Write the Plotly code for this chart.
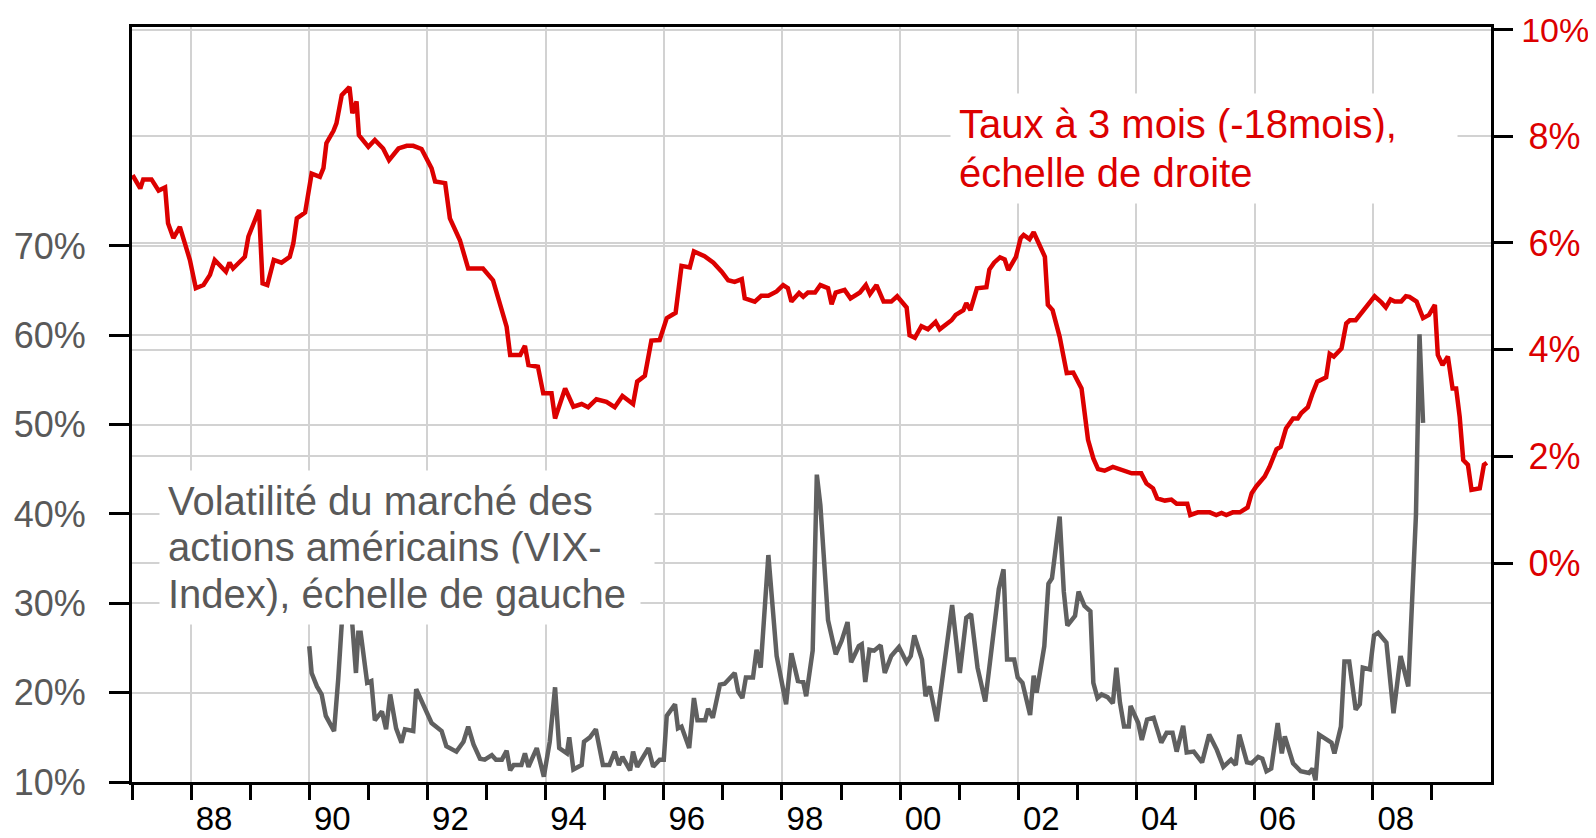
import plotly.graph_objects as go

# Taux à 3 mois décalé de 18 mois (échelle de droite, en %)
taux_annee = [
    1987.01, 1987.14, 1987.19, 1987.33, 1987.45, 1987.56, 1987.61, 1987.70, 1987.81, 1987.90,
    1987.98, 1988.08, 1988.21, 1988.32, 1988.40, 1988.59, 1988.65, 1988.71, 1988.91, 1988.97,
    1989.15, 1989.21, 1989.29, 1989.40, 1989.53, 1989.67, 1989.73, 1989.79, 1989.93, 1990.04,
    1990.18, 1990.24, 1990.29, 1990.41, 1990.46, 1990.55, 1990.68, 1990.73, 1990.80, 1990.84,
    1991.00, 1991.11, 1991.25, 1991.35, 1991.51, 1991.65, 1991.76, 1991.90, 1992.07, 1992.13,
    1992.30, 1992.38, 1992.55, 1992.69, 1992.94, 1993.11, 1993.34, 1993.40, 1993.57, 1993.65,
    1993.71, 1993.87, 1993.96, 1994.10, 1994.16, 1994.33, 1994.47, 1994.61, 1994.72, 1994.86,
    1995.03, 1995.17, 1995.30, 1995.48, 1995.55, 1995.68, 1995.79, 1995.93, 1996.05, 1996.20,
    1996.30, 1996.44, 1996.51, 1996.69, 1996.84, 1996.98, 1997.09, 1997.20, 1997.32, 1997.37,
    1997.54, 1997.65, 1997.77, 1997.91, 1998.02, 1998.10, 1998.16, 1998.29, 1998.36, 1998.44,
    1998.56, 1998.65, 1998.78, 1998.84, 1998.91, 1999.06, 1999.16, 1999.32, 1999.42, 1999.49,
    1999.60, 1999.72, 1999.85, 1999.95, 2000.11, 2000.16, 2000.25, 2000.36, 2000.47, 2000.60,
    2000.67, 2000.87, 2000.94, 2001.07, 2001.12, 2001.19, 2001.30, 2001.46, 2001.51, 2001.59,
    2001.69, 2001.77, 2001.83, 2001.96, 2002.04, 2002.09, 2002.19, 2002.26, 2002.45, 2002.50,
    2002.58, 2002.70, 2002.82, 2002.93, 2003.07, 2003.18, 2003.27, 2003.35, 2003.46, 2003.60,
    2003.77, 2003.92, 2004.08, 2004.17, 2004.28, 2004.35, 2004.48, 2004.59, 2004.68, 2004.86,
    2004.91, 2005.04, 2005.24, 2005.35, 2005.44, 2005.52, 2005.63, 2005.75, 2005.88, 2005.95,
    2006.03, 2006.17, 2006.25, 2006.37, 2006.44, 2006.53, 2006.65, 2006.73, 2006.79, 2006.90,
    2006.98, 2007.06, 2007.21, 2007.27, 2007.34, 2007.47, 2007.55, 2007.61, 2007.71, 2007.81,
    2007.92, 2008.03, 2008.15, 2008.22, 2008.30, 2008.37, 2008.48, 2008.56, 2008.62, 2008.74,
    2008.85, 2008.95, 2009.05, 2009.10, 2009.18, 2009.27, 2009.35, 2009.41, 2009.47, 2009.53,
    2009.61, 2009.67, 2009.81, 2009.88, 2009.93,
]
taux_valeur = [
    7.27, 7.02, 7.19, 7.19, 6.98, 7.04, 6.37, 6.09, 6.30, 5.93,
    5.68, 5.15, 5.21, 5.40, 5.68, 5.46, 5.63, 5.52, 5.74, 6.12,
    6.62, 5.24, 5.21, 5.68, 5.63, 5.74, 5.99, 6.46, 6.57, 7.30,
    7.24, 7.40, 7.87, 8.10, 8.24, 8.77, 8.92, 8.43, 8.65, 8.02,
    7.80, 7.93, 7.77, 7.55, 7.77, 7.82, 7.82, 7.76, 7.40, 7.15,
    7.12, 6.46, 6.05, 5.52, 5.52, 5.30, 4.43, 3.90, 3.90, 4.07,
    3.71, 3.68, 3.18, 3.18, 2.71, 3.27, 2.93, 2.98, 2.92, 3.07,
    3.02, 2.92, 3.13, 2.98, 3.40, 3.51, 4.17, 4.18, 4.59, 4.69,
    5.57, 5.54, 5.84, 5.75, 5.63, 5.46, 5.30, 5.27, 5.32, 4.96,
    4.90, 5.01, 5.01, 5.09, 5.21, 5.15, 4.90, 5.06, 4.99, 5.07,
    5.07, 5.21, 5.15, 4.85, 5.07, 5.12, 4.96, 5.07, 5.21, 5.04,
    5.21, 4.90, 4.90, 5.00, 4.79, 4.27, 4.22, 4.44, 4.38, 4.52,
    4.38, 4.55, 4.65, 4.74, 4.87, 4.74, 5.15, 5.17, 5.50, 5.63,
    5.73, 5.69, 5.49, 5.74, 6.09, 6.15, 6.07, 6.20, 5.74, 4.84,
    4.74, 4.24, 3.56, 3.57, 3.27, 2.31, 1.96, 1.76, 1.73, 1.80,
    1.74, 1.68, 1.68, 1.49, 1.40, 1.21, 1.17, 1.19, 1.11, 1.11,
    0.90, 0.95, 0.95, 0.90, 0.94, 0.90, 0.95, 0.95, 1.04, 1.31,
    1.44, 1.62, 1.80, 2.13, 2.18, 2.52, 2.71, 2.71, 2.81, 2.92,
    3.18, 3.40, 3.48, 3.92, 3.87, 4.02, 4.49, 4.55, 4.55, 4.69,
    4.84, 5.00, 4.88, 4.79, 4.94, 4.90, 4.90, 5.00, 4.99, 4.90,
    4.59, 4.65, 4.84, 3.90, 3.71, 3.87, 3.27, 3.27, 2.74, 1.93,
    1.84, 1.37, 1.40, 1.84, 1.88,
]

# Volatilité VIX (échelle de gauche, en %)
vix_annee = [
    1990.00, 1990.04, 1990.13, 1990.21, 1990.28, 1990.42, 1990.49, 1990.55, 1990.63, 1990.72,
    1990.79, 1990.83, 1990.87, 1990.98, 1991.05, 1991.11, 1991.23, 1991.30, 1991.37, 1991.47,
    1991.56, 1991.62, 1991.76, 1991.81, 1991.93, 1992.07, 1992.24, 1992.32, 1992.49, 1992.61,
    1992.69, 1992.78, 1992.89, 1992.97, 1993.09, 1993.16, 1993.26, 1993.34, 1993.40, 1993.46,
    1993.59, 1993.65, 1993.71, 1993.85, 1993.97, 1994.07, 1994.16, 1994.23, 1994.36, 1994.40,
    1994.47, 1994.61, 1994.65, 1994.75, 1994.85, 1994.97, 1995.08, 1995.17, 1995.24, 1995.30,
    1995.43, 1995.48, 1995.55, 1995.74, 1995.82, 1995.93, 1996.00, 1996.05, 1996.19, 1996.24,
    1996.30, 1996.43, 1996.51, 1996.57, 1996.70, 1996.75, 1996.83, 1996.95, 1997.03, 1997.20,
    1997.26, 1997.33, 1997.39, 1997.51, 1997.57, 1997.64, 1997.77, 1997.88, 1997.91, 1998.07,
    1998.16, 1998.27, 1998.36, 1998.41, 1998.52, 1998.59, 1998.65, 1998.78, 1998.91, 1999.01,
    1999.11, 1999.17, 1999.30, 1999.35, 1999.41, 1999.48, 1999.56, 1999.67, 1999.74, 1999.85,
    1999.98, 2000.11, 2000.18, 2000.24, 2000.37, 2000.43, 2000.50, 2000.62, 2000.70, 2000.88,
    2001.01, 2001.12, 2001.20, 2001.31, 2001.44, 2001.54, 2001.67, 2001.75, 2001.81, 2001.93,
    2001.99, 2002.07, 2002.20, 2002.26, 2002.31, 2002.44, 2002.51, 2002.57, 2002.70, 2002.77,
    2002.83, 2002.96, 2003.02, 2003.12, 2003.22, 2003.27, 2003.34, 2003.41, 2003.51, 2003.60,
    2003.66, 2003.72, 2003.79, 2003.87, 2003.90, 2004.03, 2004.09, 2004.18, 2004.29, 2004.42,
    2004.51, 2004.61, 2004.68, 2004.79, 2004.85, 2004.97, 2005.11, 2005.23, 2005.36, 2005.47,
    2005.60, 2005.68, 2005.74, 2005.87, 2005.95, 2006.06, 2006.13, 2006.20, 2006.28, 2006.39,
    2006.46, 2006.51, 2006.65, 2006.78, 2006.92, 2006.98, 2007.03, 2007.09, 2007.30, 2007.35,
    2007.46, 2007.52, 2007.60, 2007.71, 2007.78, 2007.83, 2007.95, 2008.02, 2008.09, 2008.23,
    2008.35, 2008.47, 2008.60, 2008.73, 2008.79, 2008.85,
]
vix_valeur = [
    25.2, 22.2, 20.7, 19.8, 17.4, 15.7, 21.5, 28.4, 36.0, 28.4,
    22.2, 26.7, 26.7, 21.1, 21.3, 16.9, 17.9, 15.9, 19.8, 16.0,
    14.4, 15.9, 15.7, 20.4, 18.7, 16.6, 15.7, 14.0, 13.4, 14.5,
    16.2, 14.2, 12.6, 12.5, 13.0, 12.5, 12.5, 13.5, 11.3, 11.9,
    11.9, 13.2, 11.7, 13.8, 10.6, 14.5, 20.6, 13.8, 13.2, 15.0,
    11.4, 11.9, 14.5, 15.0, 15.9, 11.9, 11.9, 13.4, 11.9, 12.8,
    11.3, 13.4, 11.7, 13.8, 11.7, 12.5, 12.5, 17.4, 18.7, 16.0,
    16.2, 13.8, 19.4, 16.9, 16.9, 18.2, 17.2, 20.9, 21.0, 22.2,
    20.1, 19.4, 21.7, 21.7, 24.8, 22.8, 35.4, 27.5, 24.1, 18.7,
    24.4, 21.3, 21.2, 19.6, 24.7, 44.4, 41.0, 28.1, 24.3, 25.8,
    27.9, 23.4, 25.2, 25.4, 21.2, 24.8, 24.7, 25.3, 22.2, 24.1,
    25.1, 23.4, 24.1, 26.4, 23.7, 19.6, 20.7, 16.8, 20.7, 29.8,
    22.2, 28.4, 28.8, 22.8, 19.0, 24.9, 31.6, 33.8, 23.7, 23.7,
    21.7, 21.1, 17.5, 21.9, 20.0, 25.2, 32.2, 32.8, 39.7, 31.3,
    27.5, 28.6, 31.3, 29.7, 29.1, 21.1, 19.4, 19.8, 19.5, 18.8,
    22.8, 18.9, 16.2, 16.2, 18.5, 16.6, 14.7, 17.0, 17.2, 14.4,
    15.5, 15.5, 13.4, 16.3, 13.3, 13.4, 12.2, 15.3, 13.6, 11.7,
    12.5, 11.9, 15.3, 12.2, 12.1, 12.8, 12.6, 11.2, 11.5, 16.6,
    13.2, 15.1, 12.1, 11.2, 11.0, 11.5, 10.2, 15.3, 14.4, 13.2,
    16.2, 23.5, 23.5, 18.1, 18.7, 22.8, 22.6, 26.4, 26.7, 25.6,
    17.7, 24.1, 20.7, 39.9, 60.1, 50.2,
]

annees_labels = list(range(1988, 2009, 2))
annees_impaires = list(range(1987, 2011, 2))
gauche_ticks = [10, 20, 30, 40, 50, 60, 70]
droite_ticks = [0, 2, 4, 6, 8, 10]

texte_taux = ["Taux à 3 mois (-18mois),", "échelle de droite"]
texte_vix = ["Volatilité du marché des", "actions américains (VIX-", "Index), échelle de gauche"]

ROUGE = "#dc0000"
GRIS = "#606060"
GRIS_TEXTE = "#595959"
GRILLE = "#d2d2d2"
FONT = "Liberation Sans, Arial, sans-serif"

# right-hand labels look centred in the reference: nudge the short ones,
# and keep the wide "10%" inside the page
droite_textes = []
for v in droite_ticks:
    if v >= 10:
        droite_textes.append(f'<span style="font-size:34px">{v}%</span>')
    else:
        droite_textes.append(f"\u2009{v}%")

fig = go.Figure()
fig.add_trace(go.Scatter(x=vix_annee, y=vix_valeur, mode="lines",
                         line=dict(color=GRIS, width=4.5), yaxis="y"))
fig.add_trace(go.Scatter(x=taux_annee, y=taux_valeur, mode="lines",
                         line=dict(color=ROUGE, width=4.5), yaxis="y2"))

# one white-backed label per text line, so the line spacing can match
notes = []
for i, ligne in enumerate(texte_taux):
    notes.append(dict(text=ligne, xref="paper", yref="paper",
                      x=0.6019, y=0.8715 - i * 0.0649,
                      xanchor="left", yanchor="middle", align="left",
                      width=490, showarrow=False, bgcolor="white", borderpad=8,
                      font=dict(size=40, color=ROUGE, family=FONT)))
for i, ligne in enumerate(texte_vix):
    notes.append(dict(text=ligne, xref="paper", yref="paper",
                      x=0.0199, y=0.3722 - i * 0.0616,
                      xanchor="left", yanchor="middle", align="left",
                      width=478 if i < 2 else 464, showarrow=False,
                      bgcolor="white", borderpad=8,
                      font=dict(size=40, color=GRIS_TEXTE, family=FONT)))

# the page body adds an 8 px offset, so the figure is 8 px smaller than the window
fig.update_layout(
    width=1588, height=830,
    margin=dict(l=124, r=105, t=19, b=56),
    paper_bgcolor="white", plot_bgcolor="white",
    showlegend=False,
    font=dict(family=FONT),
    xaxis=dict(
        range=[1987, 2010], automargin=False,
        tickmode="array", tickvals=annees_labels,
        ticktext=[f"{a % 100:02d}" for a in annees_labels],
        ticklabelshift=23, ticklabelstandoff=-10,
        tickfont=dict(size=33, color="black"),
        ticks="outside", ticklen=15, tickwidth=3, tickcolor="black",
        minor=dict(tickvals=annees_impaires, ticks="outside", ticklen=15,
                   tickwidth=3, tickcolor="black", showgrid=False),
        showgrid=True, gridcolor=GRILLE, gridwidth=2,
        showline=True, linecolor="black", linewidth=3, mirror=True,
        zeroline=False,
    ),
    yaxis=dict(
        range=[10, 94.5], automargin=False,
        tickmode="array", tickvals=gauche_ticks,
        ticktext=[f"{v}%" for v in gauche_ticks],
        tickfont=dict(size=36, color=GRIS_TEXTE),
        ticks="outside", ticklen=20, tickwidth=3, tickcolor="black",
        ticklabelstandoff=16,
        showgrid=True, gridcolor=GRILLE, gridwidth=2,
        showline=True, linecolor="black", linewidth=3,
        zeroline=False,
    ),
    yaxis2=dict(
        range=[-4.105, 10.047], overlaying="y", side="right", automargin=False,
        tickmode="array", tickvals=droite_ticks, ticktext=droite_textes,
        tickfont=dict(size=36, color=ROUGE),
        ticks="outside", ticklen=19, tickwidth=3, tickcolor="black",
        ticklabelstandoff=1,
        showgrid=True, gridcolor=GRILLE, gridwidth=2,
        showline=True, linecolor="black", linewidth=3,
        zeroline=False,
    ),
    annotations=notes,
)

fig.write_html("out.html")
